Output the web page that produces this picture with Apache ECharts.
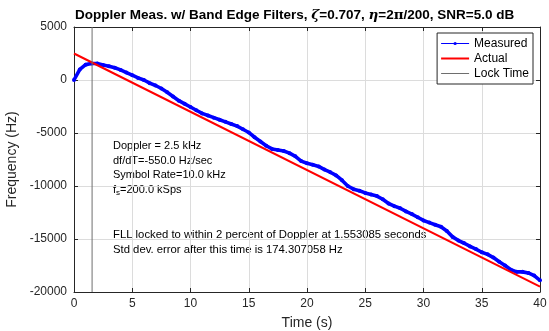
<!DOCTYPE html>
<html>
<head>
<meta charset="utf-8">
<script src="https://cdn.jsdelivr.net/npm/echarts@6/dist/echarts.min.js"></script>
<style>
  html, body { margin: 0; padding: 0; background: #fff; }
  #chart { width: 549px; height: 331px; }
</style>
</head>
<body>
<div id="chart"></div>
<script>
// Measured FLL frequency estimate (Hz) sampled every 0.5 s
const measTime = [
  0, 0.5, 1, 1.5, 2, 2.5, 3, 3.5, 4, 4.5,
  5, 5.5, 6, 6.5, 7, 7.5, 8, 8.5, 9, 9.5,
  10, 10.5, 11, 11.5, 12, 12.5, 13, 13.5, 14, 14.5,
  15, 15.5, 16, 16.5, 17, 17.5, 18, 18.5, 19, 19.5,
  20, 20.5, 21, 21.5, 22, 22.5, 23, 23.5, 24, 24.5,
  25, 25.5, 26, 26.5, 27, 27.5, 28, 28.5, 29, 29.5,
  30, 30.5, 31, 31.5, 32, 32.5, 33, 33.5, 34, 34.5,
  35, 35.5, 36, 36.5, 37, 37.5, 38, 38.5, 39, 39.5, 40
];
const measFreq = [
  0, 1000, 1450, 1550, 1550, 1420, 1300, 1150, 950, 700,
  450, 200, 0, -300, -520, -800, -1150, -1550, -1950, -2250,
  -2550, -2850, -3150, -3350, -3550, -3750, -3950, -4150, -4350, -4650,
  -4950, -5400, -5800, -6200, -6500, -6600, -6700, -6900, -7200, -7650,
  -7850, -8000, -8150, -8450, -8700, -9000, -9450, -10000, -10300, -10450,
  -10650, -10800, -10950, -11250, -11650, -11900, -12100, -12400, -12650, -12950,
  -13250, -13450, -13650, -13850, -14250, -14800, -15150, -15400, -15700, -15950,
  -16250, -16450, -16750, -17150, -17500, -17900, -18100, -18100, -18200, -18450, -18900
];

// True Doppler: 2.5 kHz start, -550 Hz/s rate
const actualTime = [0, 40];
const actualFreq = [2500, -19500];

// Lock instant
const lockTime = 1.553085;
const lockSpan = [5000, -20000];

const xTicks = [0, 5, 10, 15, 20, 25, 30, 35, 40];
const yTicks = [5000, 0, -5000, -10000, -15000, -20000];

const axisColor = '#262626';
const gridColor = '#dcdcdc';
const font = '"Liberation Sans", Arial, Helvetica, sans-serif';

const chart = echarts.init(document.getElementById('chart'), null, { renderer: 'canvas' });

const pair = (xs, ys) => xs.map((x, i) => [x, ys[i]]);
const plain = v => String(v);

const baseX = {
  type: 'value',
  min: xTicks[0],
  max: xTicks[xTicks.length - 1],
  interval: 5,
  axisLine: { show: true, onZero: false, lineStyle: { color: axisColor, width: 1 } },
  axisTick: { show: true, inside: true, length: 4, lineStyle: { color: axisColor } },
  splitLine: { show: false }
};
const baseY = {
  type: 'value',
  min: yTicks[yTicks.length - 1],
  max: yTicks[0],
  interval: 5000,
  axisLine: { show: true, onZero: false, lineStyle: { color: axisColor, width: 1 } },
  axisTick: { show: true, inside: true, length: 4, lineStyle: { color: axisColor } },
  splitLine: { show: false }
};

const option = {
  animation: false,
  backgroundColor: '#ffffff',
  textStyle: { fontFamily: font },
  title: {
    left: 70,
    top: 3,
    text: '{b|Doppler Meas. w/ Band Edge Filters, }{g|ζ}{b|=0.707, }{g|η}{b|=2}{p|π}{b|/200, SNR=5.0 dB}',
    textStyle: {
      rich: {
        b: { fontFamily: font, fontSize: 13.5, fontWeight: 'bold', color: '#000' },
        g: { fontFamily: '"DejaVu Serif", serif', fontStyle: 'italic', fontSize: 13.5, color: '#000' },
        p: { fontFamily: '"DejaVu Serif", serif', fontSize: 13.5, color: '#000' }
      }
    }
  },
  grid: { left: 74, right: 9, top: 27, bottom: 39, containLabel: false, outerBoundsMode: 'none' },
  xAxis: [
    Object.assign({}, baseX, {
      position: 'bottom',
      name: 'Time (s)',
      nameLocation: 'middle',
      nameGap: 24,
      nameTextStyle: { color: axisColor, fontSize: 14, fontFamily: font },
      axisLabel: { show: true, color: axisColor, fontSize: 12, margin: 6, fontFamily: font, formatter: plain },
      splitLine: { show: true, lineStyle: { color: gridColor, width: 1 } }
    }),
    Object.assign({}, baseX, { position: 'top', axisLabel: { show: false } })
  ],
  yAxis: [
    Object.assign({}, baseY, {
      position: 'left',
      name: 'Frequency (Hz)',
      nameLocation: 'middle',
      nameGap: 43,
      nameTextStyle: { color: axisColor, fontSize: 14, fontFamily: font },
      axisLabel: { show: true, color: axisColor, fontSize: 12, margin: 7, fontFamily: font, formatter: plain },
      splitLine: { show: true, lineStyle: { color: gridColor, width: 1 } }
    }),
    Object.assign({}, baseY, { position: 'right', axisLabel: { show: false } })
  ],
  legend: {
    orient: 'vertical',
    right: 16,
    top: 33,
    padding: [3, 4, 3, 3],
    itemWidth: 28,
    itemHeight: 4,
    itemGap: 0,
    borderColor: axisColor,
    borderWidth: 1,
    borderRadius: 0,
    backgroundColor: '#ffffff',
    textStyle: { color: '#000', fontSize: 12, lineHeight: 15, fontFamily: font },
    data: [
      { name: 'Measured', lineStyle: { width: 1 } },
      { name: 'Actual', lineStyle: { width: 2 }, itemStyle: { opacity: 0 } },
      { name: 'Lock Time', lineStyle: { width: 1 }, itemStyle: { opacity: 0 } }
    ]
  },
  series: [
    {
      name: 'Measured',
      type: 'line',
      data: pair(measTime, measFreq),
      color: '#0000ff',
      lineStyle: { color: '#0000ff', width: 3.6 },
      itemStyle: { color: '#0000ff' },
      symbol: 'circle',
      symbolSize: 4,
      showSymbol: true,
      z: 2
    },
    {
      name: 'Actual',
      type: 'line',
      data: pair(actualTime, actualFreq),
      color: '#ff0000',
      lineStyle: { color: '#ff0000', width: 2 },
      symbol: 'none',
      z: 3
    },
    {
      name: 'Lock Time',
      type: 'line',
      data: [[lockTime, lockSpan[0]], [lockTime, lockSpan[1]]],
      color: '#6e6e6e',
      lineStyle: { color: '#6e6e6e', width: 1 },
      symbol: 'none',
      z: 4
    }
  ],
  graphic: [
    {
      type: 'text', left: 113, top: 139,
      style: {
        text: 'Doppler = 2.5 kHz\ndf/dT=-550.0 Hz/sec\nSymbol Rate=10.0 kHz\n{n|f}{s|s}{n|=200.0 kSps}',
        font: '11px ' + font, fill: '#000', lineHeight: 14.5,
        rich: {
          n: { fontSize: 11, fontFamily: font, fill: '#000', lineHeight: 14.5 },
          s: { fontSize: 8, fontFamily: font, fill: '#000', verticalAlign: 'bottom', padding: [7, 0, 0, 0] }
        }
      }
    },
    {
      type: 'text', left: 113, top: 228,
      style: {
        text: 'FLL locked to within 2 percent of Doppler at 1.553085 seconds\nStd dev. error after this time is 174.307058 Hz',
        font: '11.3px ' + font, fill: '#000', lineHeight: 14.5
      }
    }
  ]
};

chart.setOption(option);
</script>
</body>
</html>
